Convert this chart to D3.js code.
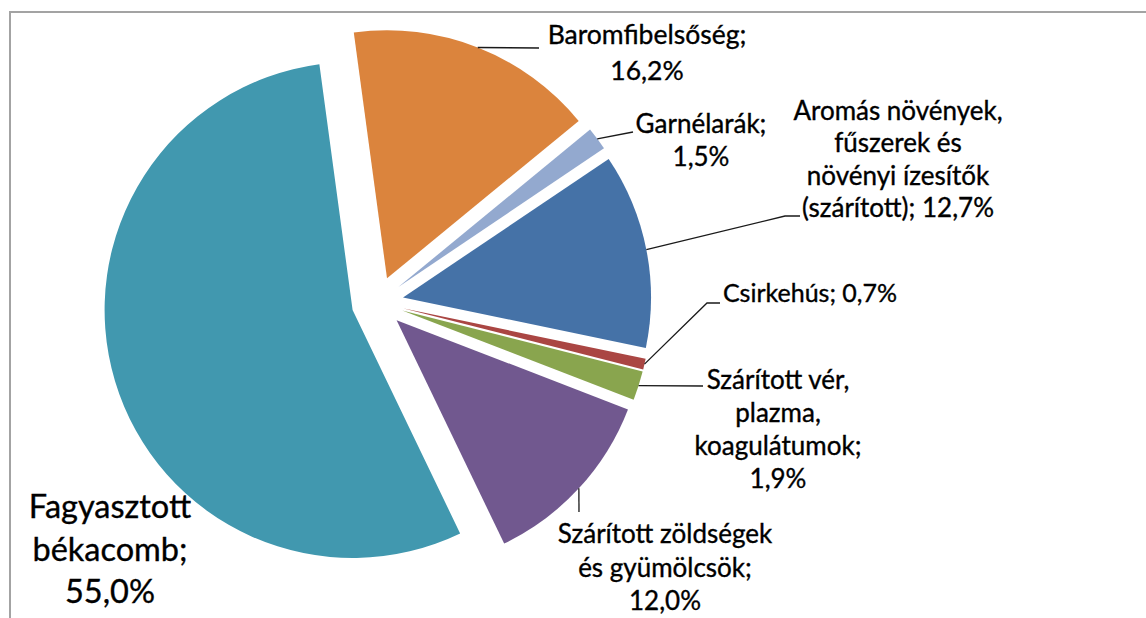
<!DOCTYPE html>
<html>
<head>
<meta charset="utf-8">
<script src="https://cdn.jsdelivr.net/npm/d3@7"></script>
<style>
  body { margin: 0; background: #fff; }
  text { font-family: Lato, "Open Sans", sans-serif; fill: #000; stroke: #000; stroke-width: 0.35px; }
</style>
</head>
<body>
<svg id="chart"></svg>
<script>
// adatok
const categories = ["Baromfibelsőség", "Garnélarák", "Aromás növények, fűszerek és növényi ízesítők (szárított)",
    "Csirkehús", "Szárított vér, plazma, koagulátumok", "Szárított zöldségek és gyümölcsök", "Fagyasztott békacomb"];
const shares = [16.2, 1.5, 12.7, 0.7, 1.9, 12.0, 55.0];
const labelLines = [
    ["Baromfibelsőség;", "{v}"],
    ["Garnélarák;", "{v}"],
    ["Aromás növények,", "fűszerek és", "növényi ízesítők", "(szárított); {v}"],
    ["Csirkehús; {v}"],
    ["Szárított vér,", "plazma,", "koagulátumok;", "{v}"],
    ["Szárított zöldségek", "és gyümölcsök;", "{v}"],
    ["Fagyasztott", "békacomb;", "{v}"]
];
const sliceColors = ["#DB843D", "#93A9CF", "#4572A7", "#AA4643", "#89A54E", "#71588F", "#4198AF"];

// label placement (layout only)
const labelLayout = [
    { x: 647, y: 44, lh: 36, size: 26.5, leader: [[539, 48]] },
    { x: 701, y: 133, lh: 33, size: 26, leader: [[633, 132]] },
    { x: 898, y: 120, lh: 32.4, size: 26, leader: [[785, 216], [800, 216]] },
    { x: 810, y: 302, lh: 33, size: 25, leader: [[707, 303], [720, 303]] },
    { x: 778, y: 389, lh: 33, size: 26, leader: [[703, 386]] },
    { x: 665, y: 543, lh: 33.5, size: 26, leader: [[579, 512]] },
    { x: 110, y: 518, lh: 42.5, size: 32.5, leader: [] }
];

const dimensions = {
    width: 1146,
    height: 618,
    cx: 377.5,
    cy: 302.5,
    radius: 248,
    explode: 26,
    startDeg: -7.7
};

const fmt = v => v.toFixed(1).replace(".", ",") + "%";

const svg = d3.select("#chart")
    .attr("width", dimensions.width)
    .attr("height", dimensions.height)
    .style("display", "block")
    .style("background-color", "white");

// chart frame (cut off at the right and bottom)
svg.append("path")
    .attr("d", `M10,${dimensions.height} V12 H${dimensions.width}`)
    .attr("fill", "none")
    .attr("stroke", "#a3a3a3")
    .attr("stroke-width", 2);

const start = dimensions.startDeg * Math.PI / 180;
const pie = d3.pie()
    .sort(null)
    .value(d => d)
    .startAngle(start)
    .endAngle(start + 2 * Math.PI);

const arcs = pie(shares);

const arc = d3.arc()
    .innerRadius(0)
    .outerRadius(dimensions.radius);

const edgeArc = d3.arc()
    .innerRadius(dimensions.radius)
    .outerRadius(dimensions.radius);

const offset = d => {
    const mid = (d.startAngle + d.endAngle) / 2;
    return [dimensions.explode * Math.sin(mid), -dimensions.explode * Math.cos(mid)];
};

const g = svg.append("g")
    .attr("transform", `translate(${dimensions.cx},${dimensions.cy})`);

g.selectAll("path.slice")
    .data(arcs)
    .enter().append("path")
    .attr("class", "slice")
    .attr("transform", d => `translate(${offset(d)})`)
    .attr("d", arc)
    .attr("fill", (d, i) => sliceColors[i]);

// leader lines
const line = d3.line();
arcs.forEach((d, i) => {
    const lay = labelLayout[i];
    if (!lay.leader.length) return;
    const c = edgeArc.centroid(d);
    const o = offset(d);
    const p0 = [dimensions.cx + c[0] + o[0], dimensions.cy + c[1] + o[1]];
    svg.append("path")
        .attr("d", line([p0].concat(lay.leader)))
        .attr("fill", "none")
        .attr("stroke", "#1a1a1a")
        .attr("stroke-width", 1.3);
});

// labels
labelLines.forEach((lines, i) => {
    const lay = labelLayout[i];
    const t = svg.append("text")
        .attr("text-anchor", "middle")
        .style("font-size", lay.size + "px");
    lines.forEach((s, j) => {
        t.append("tspan")
            .attr("x", lay.x)
            .attr("y", lay.y + j * lay.lh)
            .text(s.replace("{v}", fmt(shares[i])));
    });
});
</script>
</body>
</html>
